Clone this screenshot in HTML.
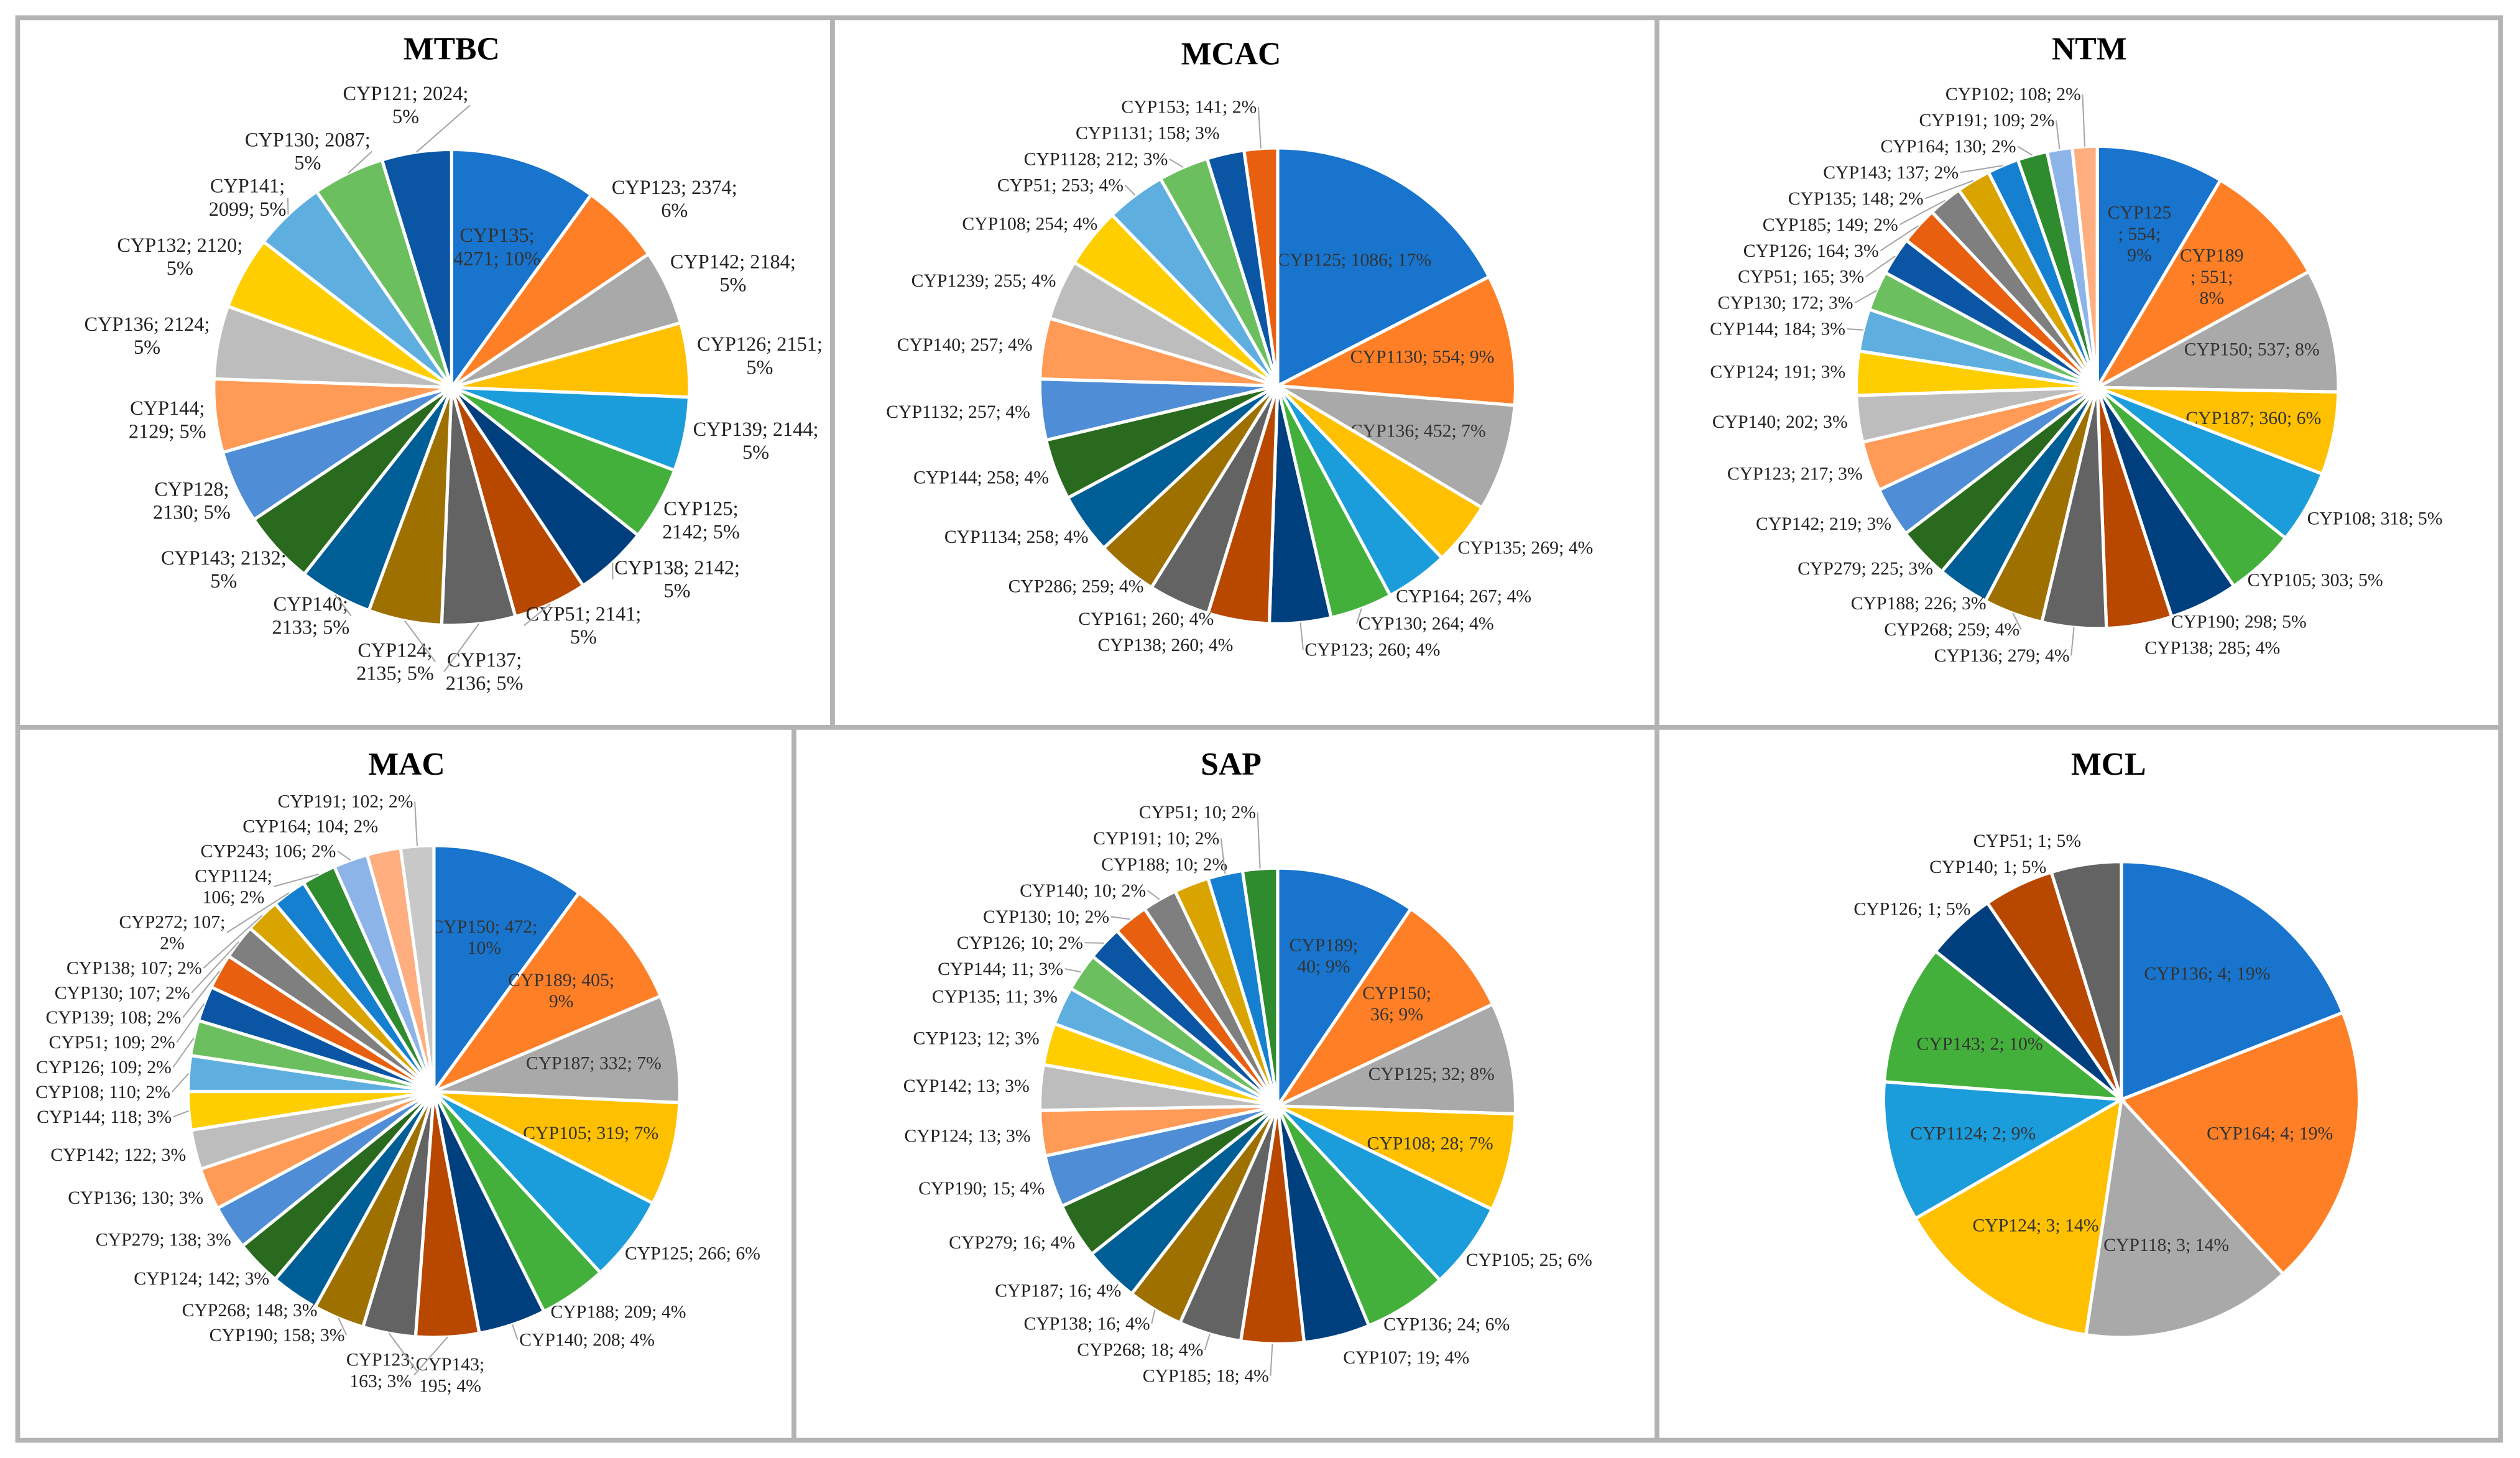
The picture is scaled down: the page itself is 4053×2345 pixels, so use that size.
<!DOCTYPE html>
<html><head><meta charset="utf-8">
<style>
html,body{margin:0;padding:0;background:#fff;}
svg{display:block;}
text{font-family:"Liberation Serif",serif;}
</style></head>
<body>
<svg id="fig" width="4053" height="2345" viewBox="0 0 1568 907" preserveAspectRatio="none" xmlns="http://www.w3.org/2000/svg">
<rect x="0" y="0" width="1568" height="907" fill="#fff"/>
<g fill="none" stroke="#b3b3b3" stroke-width="3">
<rect x="11" y="11" width="1545" height="885"/>
<line x1="11" y1="452.5" x2="1556" y2="452.5"/>
<line x1="518" y1="11" x2="518" y2="452"/>
<line x1="1031" y1="11" x2="1031" y2="896"/>
<line x1="494" y1="452" x2="494" y2="896"/>
</g>
</svg>
<script>
const palette=["#1874CD","#FF7F27","#A9A9A9","#FFC000","#1B9CDB","#44B03C","#003F7D","#B84700","#636363","#9E7000","#005E96","#2A6A1F","#4F8ED6","#FF9A57","#BDBDBD","#FFCE00","#5EAFDF","#6CBF5E","#0B56A4","#E8600F","#7F7F7F","#D9A400","#1580D0","#2E8B2E","#8DB4E8","#FFAE80","#C8C8C8"];

const mtbcNames=["CYP135","CYP123","CYP142","CYP126","CYP139","CYP125","CYP138","CYP51","CYP137","CYP124","CYP140","CYP143","CYP128","CYP144","CYP136","CYP132","CYP141","CYP130","CYP121"];
const mtbcValues=[4271,2374,2184,2151,2144,2142,2142,2141,2136,2135,2133,2132,2130,2129,2124,2120,2099,2087,2024];
const mtbcPct=[10,6,5,5,5,5,5,5,5,5,5,5,5,5,5,5,5,5,5];
const mtbcWrap=[2,1,1,1,1,2,1,1,2,2,2,1,2,2,1,1,2,1,1];

const mcacNames=["CYP125","CYP1130","CYP136","CYP135","CYP164","CYP130","CYP123","CYP138","CYP161","CYP286","CYP1134","CYP144","CYP1132","CYP140","CYP1239","CYP108","CYP51","CYP1128","CYP1131","CYP153"];
const mcacValues=[1086,554,452,269,267,264,260,260,260,259,258,258,257,257,255,254,253,212,158,141];
const mcacPct=[17,9,7,4,4,4,4,4,4,4,4,4,4,4,4,4,4,3,3,2];
const mcacWrap=[0,0,0,0,0,0,0,0,0,0,0,0,0,0,0,0,0,0,0,0];

const ntmNames=["CYP125","CYP189","CYP150","CYP187","CYP108","CYP105","CYP190","CYP138","CYP136","CYP268","CYP188","CYP279","CYP142","CYP123","CYP140","CYP124","CYP144","CYP130","CYP51","CYP126","CYP185","CYP135","CYP143","CYP164","CYP191","CYP102"];
const ntmValues=[554,551,537,360,318,303,298,285,279,259,226,225,219,217,202,191,184,172,165,164,149,148,137,130,109,108];
const ntmPct=[9,8,8,6,5,5,5,4,4,4,3,3,3,3,3,3,3,3,3,3,2,2,2,2,2,2];
const ntmWrap=[3,3,0,0,0,0,0,0,0,0,0,0,0,0,0,0,0,0,0,0,0,0,0,0,0,0];

const macNames=["CYP150","CYP189","CYP187","CYP105","CYP125","CYP188","CYP140","CYP143","CYP123","CYP190","CYP268","CYP124","CYP279","CYP136","CYP142","CYP144","CYP108","CYP126","CYP51","CYP139","CYP130","CYP138","CYP272","CYP1124","CYP243","CYP164","CYP191"];
const macValues=[472,405,332,319,266,209,208,195,163,158,148,142,138,130,122,118,110,109,109,108,107,107,107,106,106,104,102];
const macPct=[10,9,7,7,6,4,4,4,3,3,3,3,3,3,3,3,2,2,2,2,2,2,2,2,2,2,2];
const macWrap=[1,1,0,0,0,0,0,2,2,0,0,0,0,0,0,0,0,0,0,0,0,0,1,2,0,0,0];

const sapNames=["CYP189","CYP150","CYP125","CYP108","CYP105","CYP136","CYP107","CYP185","CYP268","CYP138","CYP187","CYP279","CYP190","CYP124","CYP142","CYP123","CYP135","CYP144","CYP126","CYP130","CYP140","CYP188","CYP191","CYP51"];
const sapValues=[40,36,32,28,25,24,19,18,18,16,16,16,15,13,13,12,11,11,10,10,10,10,10,10];
const sapPct=[9,9,8,7,6,6,4,4,4,4,4,4,4,3,3,3,3,3,2,2,2,2,2,2];
const sapWrap=[2,2,0,0,0,0,0,0,0,0,0,0,0,0,0,0,0,0,0,0,0,0,0,0];

const mclNames=["CYP136","CYP164","CYP118","CYP124","CYP1124","CYP143","CYP126","CYP140","CYP51"];
const mclValues=[4,4,3,3,2,2,1,1,1];
const mclPct=[19,19,14,14,9,10,5,5,5];
const mclWrap=[0,0,0,0,0,0,0,0,0];

const NS="http://www.w3.org/2000/svg";
const svg=document.getElementById('fig');

function labelLines(n,v,p,w){
  if(w===1) return [n+"; "+v+";",p+"%"];
  if(w===2) return [n+";",v+"; "+p+"%"];
  if(w===3) return [n,"; "+v+";",p+"%"];
  return [n+"; "+v+"; "+p+"%"];
}

function drawPie(cfg){
  const g=document.createElementNS(NS,'g');
  
  
  svg.appendChild(g);
  const t=document.createElementNS(NS,'text');
  
  
  t.setAttribute('x',cfg.tx);t.setAttribute('y',cfg.ty);
  t.setAttribute('text-anchor','middle');t.setAttribute('font-size','20');t.setAttribute('font-weight','bold');
  t.textContent=cfg.title;g.appendChild(t);
  const leaders=document.createElementNS(NS,'g');
  
  
  const total=cfg.values.reduce((a,b)=>a+b,0);
  let a0=0;
  const cx=cfg.cx,cy=cfg.cy,r=cfg.r,R=r+cfg.gap;
  const lh=cfg.fs*1.15;
  const pad=cfg.pad;
  const outs=[];
  cfg.values.forEach((v,i)=>{
    const a1=a0+v/total*Math.PI*2;
    const x0=cx+r*Math.sin(a0),y0=cy-r*Math.cos(a0);
    const x1=cx+r*Math.sin(a1),y1=cy-r*Math.cos(a1);
    const p=document.createElementNS(NS,'path');
    
    
    p.setAttribute('d',`M${cx},${cy}L${x0},${y0}A${r},${r} 0 ${(a1-a0)>Math.PI?1:0} 1 ${x1},${y1}Z`);
    p.setAttribute('fill',palette[i%palette.length]);
    p.setAttribute('stroke','#fff');p.setAttribute('stroke-width','2');
    g.appendChild(p);
    const mid=(a0+a1)/2;
    const lines=labelLines(cfg.names[i],v,cfg.pct[i],cfg.wrap[i]);
    const lt=document.createElementNS(NS,'text');
    
    
    lt.setAttribute('font-size',cfg.fs);lt.setAttribute('text-anchor','middle');
    lines.forEach(s=>{const ts=document.createElementNS(NS,'tspan');ts.textContent=s;lt.appendChild(ts);});
    g.appendChild(lt);
    let w=0;
    lt.querySelectorAll('tspan').forEach(ts=>{w=Math.max(w,ts.getComputedTextLength());});
    const h=lines.length*lh;
    if(i<cfg.inside){
      const lx=cx+cfg.ir*r*Math.sin(mid),ly=cy-cfg.ir*r*Math.cos(mid);
      lt.setAttribute('fill','#333');
      lt.querySelectorAll('tspan').forEach((ts,k)=>{ts.setAttribute('x',lx);ts.setAttribute('y',ly-h/2+lh*(k+0.78));});
    } else {
      lt.setAttribute('fill','#222');
      const s=Math.sin(mid),c=Math.cos(mid);
      const side=s>=0?1:-1;
      const ax=cx+R*s,ay=cy-R*c;
      let xc;
      if(Math.abs(s)<0.35&&lines.length===1){xc=ax+side*(2+w/2);}
      else xc=ax+w/2*s;
      const yc=ay-h/2*c;
      outs.push({lt,w,h,xc,yc,y0c:yc,side,mid});
    }
    a0=a1;
  });
  [1,-1].forEach(side=>{
    const arr=outs.filter(o=>o.side===side).sort((a,b)=>a.y0c-b.y0c);
    for(let it=0;it<300;it++){
      let any=false;
      for(let k=1;k<arr.length;k++){
        const a=arr[k-1],b=arr[k];
        const need=a.h/2+b.h/2+pad;
        const gapv=b.yc-a.yc;
        if(gapv<need-0.01){
          const d=(need-gapv)/2;
          a.yc-=d;b.yc+=d;any=true;
        }
      }
      if(!any) break;
    }
    if(arr.length){
      if(arr[0].yc-arr[0].h/2<cfg.minTop) arr[0].yc=cfg.minTop+arr[0].h/2;
      for(let k=1;k<arr.length;k++){
        const a=arr[k-1],b=arr[k];
        const need=a.h/2+b.h/2+pad;
        if(b.yc-a.yc<need) b.yc=a.yc+need;
      }
    }
  });
  outs.forEach(o=>{
    const moved=Math.abs(o.yc-o.y0c)>2;
    if(moved){
      const dy=o.yc-cy;
      if(Math.abs(dy)<R){
        const ex=cx+o.side*Math.sqrt(R*R-dy*dy);
        const nx=ex+o.side*(o.w/2+4);
        if(o.side>0?nx>o.xc:nx<o.xc) o.xc=nx;
      }
      const px=cx+r*Math.sin(o.mid),py=cy-r*Math.cos(o.mid);
      const lx=o.xc-o.side*(o.w/2+1);
      const ln=document.createElementNS(NS,'polyline');
      
      
      ln.setAttribute('points',`${px},${py} ${lx},${o.yc}`);
      ln.setAttribute('fill','none');ln.setAttribute('stroke','#a6a6a6');ln.setAttribute('stroke-width','0.8');
      leaders.appendChild(ln);
    }
    o.lt.querySelectorAll('tspan').forEach((ts,k)=>{
      ts.setAttribute('x',o.xc);
      ts.setAttribute('y',o.yc-o.h/2+lh*(k+0.78));
    });
  });
  g.appendChild(leaders);
}

drawPie({id:'mtbc',title:'MTBC',tx:281,ty:37,cx:281,cy:241,r:148,names:mtbcNames,values:mtbcValues,pct:mtbcPct,wrap:mtbcWrap,inside:1,ir:0.62,gap:6,fs:12.5,pad:0,minTop:50});
drawPie({id:'mcac',title:'MCAC',tx:766,ty:40,cx:795,cy:240,r:148,names:mcacNames,values:mcacValues,pct:mcacPct,wrap:mcacWrap,inside:3,ir:0.62,gap:7,fs:11.5,pad:3,minTop:52});
drawPie({id:'ntm',title:'NTM',tx:1300,ty:37,cx:1305,cy:241,r:150,names:ntmNames,values:ntmValues,pct:ntmPct,wrap:ntmWrap,inside:4,ir:0.66,gap:7,fs:11.5,pad:3,minTop:52});
drawPie({id:'mac',title:'MAC',tx:253,ty:482,cx:270,cy:679,r:153,names:macNames,values:macValues,pct:macPct,wrap:macWrap,inside:4,ir:0.66,gap:7,fs:11.5,pad:2.2,minTop:492});
drawPie({id:'sap',title:'SAP',tx:766,ty:482,cx:795,cy:688,r:148,names:sapNames,values:sapValues,pct:sapPct,wrap:sapWrap,inside:4,ir:0.66,gap:7,fs:11.5,pad:3,minTop:495});
drawPie({id:'mcl',title:'MCL',tx:1312,ty:482,cx:1320,cy:684,r:148,names:mclNames,values:mclValues,pct:mclPct,wrap:mclWrap,inside:6,ir:0.64,gap:7,fs:11.5,pad:3,minTop:495});
</script>
</body></html>
